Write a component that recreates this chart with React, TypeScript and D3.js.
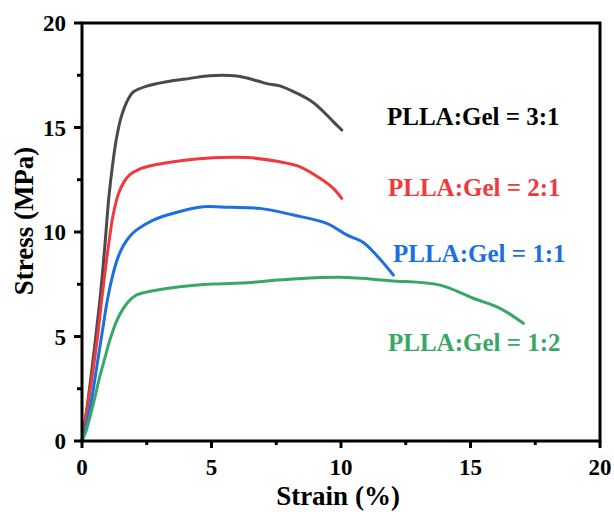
import React from "react";
import * as d3 from "d3";

const strain31 = [0, 0.15, 0.35, 0.55, 0.72, 0.88, 1.04, 1.18, 1.32, 1.49, 1.65, 1.8, 1.98, 2.5, 3.27, 4.17, 4.94, 5.97, 6.75, 7.14, 7.64, 8.29, 8.8, 9.19, 9.7, 10.03];
const stress31 = [0, 1.2, 3.1, 5.2, 7.1, 9.3, 11.7, 13.2, 14.4, 15.4, 16.0, 16.4, 16.7, 16.98, 17.19, 17.35, 17.48, 17.46, 17.24, 17.1, 16.99, 16.64, 16.3, 15.92, 15.28, 14.88];

const strain21 = [0, 0.15, 0.38, 0.6, 0.76, 0.9, 1.05, 1.2, 1.4, 1.62, 1.85, 2.2, 2.7, 3.53, 4.81, 6.36, 7.64, 8.42, 9.19, 9.7, 10.03];
const stress21 = [0, 1.2, 3.0, 5.0, 6.75, 8.2, 9.6, 10.8, 11.8, 12.4, 12.75, 13.0, 13.18, 13.36, 13.53, 13.56, 13.36, 13.12, 12.57, 12.09, 11.61];

const strain11 = [0, 0.2, 0.4, 0.57, 0.78, 0.98, 1.18, 1.38, 1.6, 1.85, 2.11, 2.75, 3.53, 4.68, 5.71, 6.87, 8.16, 9.45, 10.22, 10.86, 11.45, 12.02];
const stress11 = [0, 0.9, 2.2, 3.55, 5.2, 6.75, 7.9, 8.75, 9.35, 9.8, 10.1, 10.57, 10.9, 11.21, 11.18, 11.13, 10.81, 10.41, 9.86, 9.5, 8.78, 7.94];

const strain12 = [0, 0.15, 0.31, 0.5, 0.69, 0.89, 1.08, 1.34, 1.55, 1.8, 2.11, 2.75, 3.78, 5.07, 6.36, 7.52, 8.03, 9.96, 11.89, 13.82, 15.1, 16.14, 17.04];
const stress12 = [0, 0.45, 1.16, 2.1, 3.1, 4.0, 4.85, 5.75, 6.25, 6.68, 6.99, 7.19, 7.38, 7.51, 7.57, 7.7, 7.74, 7.83, 7.67, 7.46, 6.83, 6.35, 5.63];

const seriesLabels = ["PLLA:Gel = 3:1", "PLLA:Gel = 2:1", "PLLA:Gel = 1:1", "PLLA:Gel = 1:2"];
const majorTicks = [0, 5, 10, 15, 20];
const minorTicks = [2.5, 7.5, 12.5, 17.5];

const series = [
  { x: strain31, y: stress31, color: "#4a4a4a", text: "#000000", label: seriesLabels[0], lx: 387, ly: 125 },
  { x: strain21, y: stress21, color: "#f0393c", text: "#f0393c", label: seriesLabels[1], lx: 388, ly: 196 },
  { x: strain11, y: stress11, color: "#1c6fe0", text: "#1c6fe0", label: seriesLabels[2], lx: 393, ly: 262 },
  { x: strain12, y: stress12, color: "#37a865", text: "#37a865", label: seriesLabels[3], lx: 388, ly: 351 },
];

const FONT = "'Liberation Serif', 'Times New Roman', serif";

export default function App() {
  const xs = d3.scaleLinear().domain([0, 20]).range([82, 600]);
  const ys = d3.scaleLinear().domain([0, 20]).range([441, 23]);
  const line = d3
    .line<[number, number]>()
    .x((d) => xs(d[0]))
    .y((d) => ys(d[1]))
    .curve(d3.curveCatmullRom.alpha(0.5));

  return (
    <div style={{ position: "fixed", left: 0, top: 0 }}>
      <svg width={614} height={512} style={{ display: "block", background: "#fff" }}>
        {series.map((s, i) => (
          <path
            key={i}
            d={line(s.x.map((v, j) => [v, s.y[j]] as [number, number])) || ""}
            fill="none"
            stroke={s.color}
            strokeWidth={3}
            strokeLinejoin="round"
            strokeLinecap="round"
          />
        ))}
        <rect x={xs(0)} y={ys(20)} width={xs(20) - xs(0)} height={ys(0) - ys(20)} fill="none" stroke="#000" strokeWidth={3} />
        {majorTicks.map((t) => (
          <g key={"ym" + t}>
            <line x1={xs(0) - 8} x2={xs(0)} y1={ys(t)} y2={ys(t)} stroke="#000" strokeWidth={3} />
            <text x={66} y={ys(t)} dy="0.35em" textAnchor="end" fontFamily={FONT} fontWeight="bold" fontSize={23}>
              {t}
            </text>
          </g>
        ))}
        {minorTicks.map((t) => (
          <line key={"yn" + t} x1={xs(0) - 5} x2={xs(0)} y1={ys(t)} y2={ys(t)} stroke="#000" strokeWidth={3} />
        ))}
        {majorTicks.map((t) => (
          <g key={"xm" + t}>
            <line x1={xs(t)} x2={xs(t)} y1={ys(0)} y2={ys(0) + 7} stroke="#000" strokeWidth={3} />
            <text x={xs(t)} y={475} textAnchor="middle" fontFamily={FONT} fontWeight="bold" fontSize={23}>
              {t}
            </text>
          </g>
        ))}
        {minorTicks.map((t) => (
          <line key={"xn" + t} x1={xs(t)} x2={xs(t)} y1={ys(0)} y2={ys(0) + 4} stroke="#000" strokeWidth={3} />
        ))}
        <text x={338} y={505} textAnchor="middle" fontFamily={FONT} fontWeight="bold" fontSize={27}>
          Strain (%)
        </text>
        <text
          transform={`translate(33, 221) rotate(-90)`}
          textAnchor="middle"
          fontFamily={FONT}
          fontWeight="bold"
          fontSize={27}
        >
          Stress (MPa)
        </text>
        {series.map((s, i) => (
          <text key={"l" + i} x={s.lx} y={s.ly} fill={s.text} fontFamily={FONT} fontWeight="bold" fontSize={25}>
            {s.label}
          </text>
        ))}
      </svg>
    </div>
  );
}
